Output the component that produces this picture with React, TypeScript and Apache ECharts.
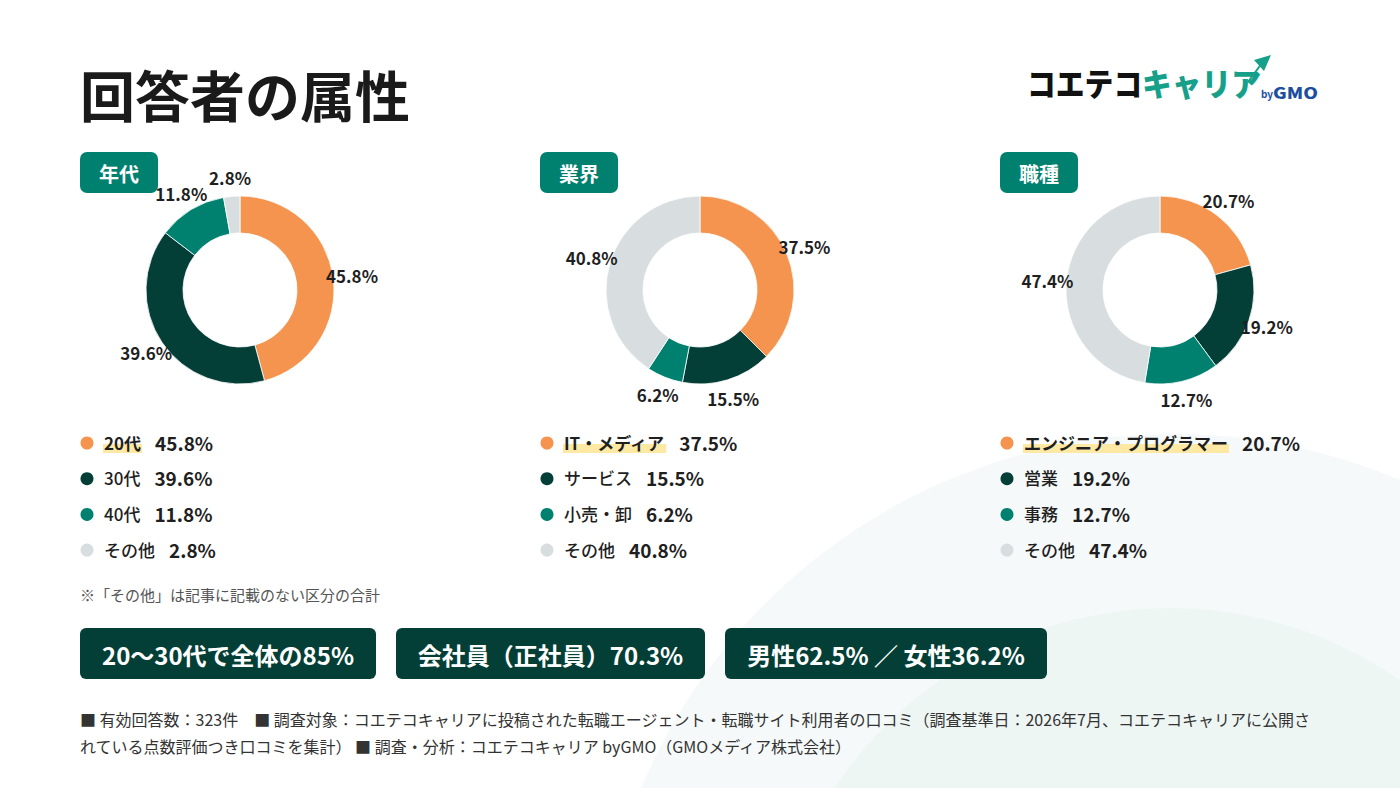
import React, { useEffect, useRef } from 'react';
import * as echarts from 'echarts';

const COLORS = ['#f4944f', '#043f37', '#00806f', '#d8dee0'];

const sectionTitles = ['年代', '業界', '職種'];

const ageNames = ['20代', '30代', '40代', 'その他'];
const ageValues = [45.8, 39.6, 11.8, 2.8];

const industryNames = ['IT・メディア', 'サービス', '小売・卸', 'その他'];
const industryValues = [37.5, 15.5, 6.2, 40.8];

const jobNames = ['エンジニア・プログラマー', '営業', '事務', 'その他'];
const jobValues = [20.7, 19.2, 12.7, 47.4];

const titleText = '回答者の属性';
const noteText = '※「その他」は記事に記載のない区分の合計';
const summaryTexts = ['20〜30代で全体の85%', '会社員（正社員）70.3%', '男性62.5% ／ 女性36.2%'];
const footerLines = [
  '■ 有効回答数：323件　■ 調査対象：コエテコキャリアに投稿された転職エージェント・転職サイト利用者の口コミ（調査基準日：2026年7月、コエテコキャリアに公開さ',
  'れている点数評価つき口コミを集計） ■ 調査・分析：コエテコキャリア byGMO（GMOメディア株式会社）',
];

const FONT = '"Noto Sans CJK JP", "Noto Sans", sans-serif';

const panels = [
  { names: ageNames, values: ageValues },
  { names: industryNames, values: industryValues },
  { names: jobNames, values: jobValues },
];

function makeMeasure() {
  const c = document.createElement('canvas');
  const ctx = c.getContext('2d')!;
  return (s: string, size: number, weight: string | number) => {
    ctx.font = `${weight} ${size}px "Noto Sans CJK JP"`;
    return ctx.measureText(s).width;
  };
}

export default function App() {
  const ref = useRef<HTMLDivElement>(null);

  useEffect(() => {
    document.body.style.margin = '0';
    if (!ref.current) return;
    const chart = echarts.init(ref.current, undefined, { renderer: 'svg' });
    const measure = makeMeasure();

    const PANEL_DX = 460;
    const graphics: any[] = [];

    // background circles
    graphics.push({ type: 'circle', z: -10, silent: true, shape: { cx: 1174, cy: 1012, r: 578 }, style: { fill: '#f5f9f9' } });
    graphics.push({ type: 'circle', z: -9, silent: true, shape: { cx: 1170, cy: 1011, r: 403 }, style: { fill: '#eef6f4' } });

    // title
    graphics.push({
      type: 'text', x: 80, y: 93, z: 10,
      style: { text: titleText, font: `bold 55px ${FONT}`, fill: '#1a1a1a', textVerticalAlign: 'middle' },
    });

    // logo
    graphics.push({
      type: 'text', x: 1027, y: 82, z: 10, scaleX: 0.9,
      style: { text: 'コエテコ', font: `900 32px ${FONT}`, fill: '#111111', textVerticalAlign: 'middle' },
    });
    graphics.push({
      type: 'text', x: 1142, y: 82, z: 10, scaleX: 0.93,
      style: { text: 'キャリア', font: `900 32px ${FONT}`, fill: '#16a08a', textVerticalAlign: 'middle' },
    });
    graphics.push({
      type: 'polygon', z: 10,
      shape: { points: [[1254, 60], [1271, 55], [1264, 71]] },
      style: { fill: '#16a08a' },
    });
    graphics.push({
      type: 'line', z: 10,
      shape: { x1: 1248, y1: 82, x2: 1262, y2: 63 },
      style: { stroke: '#16a08a', lineWidth: 2 },
    });
    graphics.push({
      type: 'text', x: 1261, y: 93, z: 10,
      style: { text: 'by', font: `bold 10px ${FONT}`, fill: '#1d4f9f', textVerticalAlign: 'middle' },
    });
    graphics.push({
      type: 'text', x: 1273, y: 92, z: 10, scaleX: 1.25,
      style: { text: 'GMO', font: `900 15px ${FONT}`, fill: '#1d4f9f', textVerticalAlign: 'middle' },
    });

    panels.forEach((p, i) => {
      const x0 = 80 + PANEL_DX * i;
      // section label
      graphics.push({
        type: 'rect', z: 10, shape: { x: x0, y: 152, width: 78, height: 41, r: 7 },
        style: { fill: '#00806f' },
      });
      graphics.push({
        type: 'text', x: x0 + 39, y: 173, z: 11,
        style: { text: sectionTitles[i], font: `bold 20px ${FONT}`, fill: '#ffffff', textAlign: 'center', textVerticalAlign: 'middle' },
      });
      // legend rows
      p.names.forEach((name, j) => {
        const y = 443 + j * 35.7;
        const w = j === 0 ? 'bold' : 500;
        const lw = measure(name, 17, w);
        graphics.push({ type: 'circle', z: 10, shape: { cx: x0 + 7, cy: y, r: 6.5 }, style: { fill: COLORS[j] } });
        if (j === 0) {
          graphics.push({ type: 'rect', z: 10, shape: { x: x0 + 23, y: y + 1, width: lw + 2, height: 9 }, style: { fill: '#fde8a4' } });
        }
        graphics.push({
          type: 'text', x: x0 + 24, y: y - 1, z: 11,
          style: { text: name, font: `${w} 17px ${FONT}`, fill: '#1f1f1f', textVerticalAlign: 'middle' },
        });
        graphics.push({
          type: 'text', x: x0 + 24 + lw + 14, y: y - 1, z: 11,
          style: { text: `${p.values[j].toFixed(1)}%`, font: `bold 19px ${FONT}`, fill: '#1f1f1f', textVerticalAlign: 'middle' },
        });
      });
    });

    // note
    graphics.push({
      type: 'text', x: 80, y: 594, z: 10,
      style: { text: noteText, font: `15px ${FONT}`, fill: '#555555', textVerticalAlign: 'middle' },
    });

    // summary boxes
    const boxes = [
      { x: 80, w: 296 },
      { x: 396, w: 309 },
      { x: 725, w: 322 },
    ];
    summaryTexts.forEach((t, k) => {
      const b = boxes[k];
      graphics.push({ type: 'rect', z: 10, shape: { x: b.x, y: 628, width: b.w, height: 51, r: 6 }, style: { fill: '#043f37' } });
      graphics.push({
        type: 'text', x: b.x + b.w / 2, y: 654, z: 11,
        style: { text: t, font: `bold 24px ${FONT}`, fill: '#ffffff', textAlign: 'center', textVerticalAlign: 'middle' },
      });
    });

    // footer
    footerLines.forEach((t, k) => {
      graphics.push({
        type: 'text', x: 80, y: 719 + k * 27, z: 10,
        style: { text: t, font: `16px ${FONT}`, fill: '#333333', textVerticalAlign: 'middle' },
      });
    });

    const series: any[] = [];
    panels.forEach((p, i) => {
      const center = [240 + PANEL_DX * i, 290];
      series.push({
        type: 'pie',
        radius: [57, 94],
        center,
        startAngle: 90,
        clockwise: true,
        silent: true,
        avoidLabelOverlap: false,
        emphasis: { disabled: true },
        label: { show: false },
        labelLine: { show: false },
        itemStyle: { borderColor: '#ffffff', borderWidth: 0.8 },
        data: p.values.map((v, j) => ({ value: v, name: p.names[j], itemStyle: { color: COLORS[j] } })),
      });
      series.push({
        type: 'pie',
        radius: [94, 126],
        center,
        startAngle: 90,
        clockwise: true,
        silent: true,
        avoidLabelOverlap: false,
        emphasis: { disabled: true },
        itemStyle: { color: 'rgba(0,0,0,0)' },
        label: {
          show: true,
          position: 'inside',
          formatter: (d: any) => `${d.value.toFixed(1)}%`,
          color: '#1f1f1f',
          fontFamily: FONT,
          fontWeight: 'bold',
          fontSize: 17,
          textBorderWidth: 0,
        },
        labelLine: { show: false },
        data: p.values.map((v, j) => ({ value: v, name: p.names[j] })),
        z: 5,
      });
    });

    chart.setOption({
      animation: false,
      backgroundColor: '#ffffff',
      textStyle: { fontFamily: FONT },
      tooltip: { show: false },
      graphic: { elements: graphics },
      series,
    });

    return () => chart.dispose();
  }, []);

  return <div ref={ref} style={{ width: 1400, height: 788 }} />;
}
